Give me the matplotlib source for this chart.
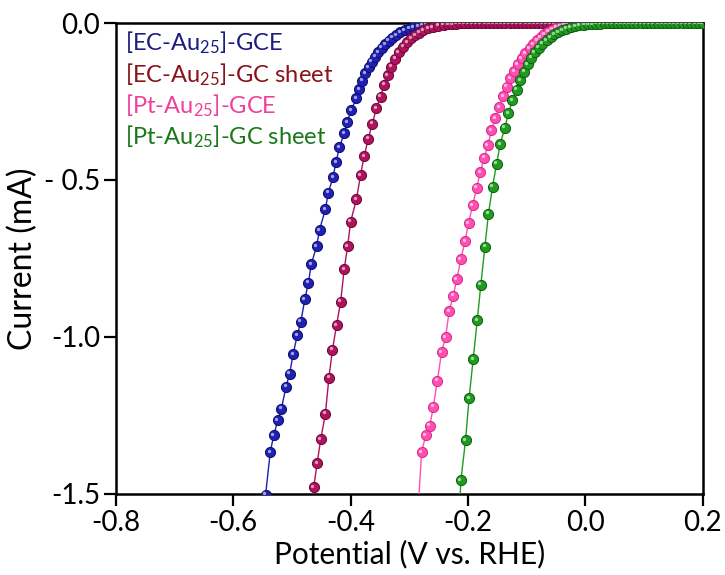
import matplotlib
matplotlib.use('Agg')
import matplotlib.pyplot as plt
from matplotlib.transforms import offset_copy

plt.rcParams['font.family'] = ['Lato', 'DejaVu Sans']
plt.rcParams['mathtext.fontset'] = 'custom'
plt.rcParams['mathtext.rm'] = 'Lato'
plt.rcParams['axes.unicode_minus'] = False

# LSV sweeps, potential in V vs. RHE, current in mA
ec_gce_v = [-0.545, -0.537, -0.531, -0.524, -0.518, -0.510, -0.504, -0.498, -0.491, -0.485,
            -0.478, -0.472, -0.467, -0.458, -0.453, -0.443, -0.438, -0.430, -0.425, -0.419,
            -0.411, -0.406, -0.399, -0.390, -0.385, -0.380, -0.375, -0.369, -0.364, -0.358,
            -0.353, -0.347, -0.341, -0.335, -0.329, -0.322, -0.315, -0.308, -0.300, -0.293,
            -0.284, -0.277, -0.270, -0.263, -0.256, -0.249, -0.242, -0.235, -0.228, -0.221,
            -0.214, -0.207, -0.200]
ec_gce_i = [-1.503, -1.367, -1.312, -1.265, -1.228, -1.158, -1.117, -1.055, -0.995, -0.952,
            -0.880, -0.827, -0.768, -0.711, -0.659, -0.593, -0.540, -0.491, -0.443, -0.396,
            -0.351, -0.315, -0.277, -0.240, -0.210, -0.184, -0.160, -0.141, -0.123, -0.107,
            -0.093, -0.079, -0.067, -0.056, -0.047, -0.038, -0.030, -0.023, -0.018, -0.014,
            -0.010, -0.007, -0.005, -0.004, -0.003, -0.002, -0.001, -0.001, 0.000, 0.000,
            0.000, 0.000, 0.000]

ec_sheet_v = [-0.469, -0.463, -0.457, -0.451, -0.443, -0.437, -0.431, -0.424, -0.417, -0.411,
              -0.405, -0.400, -0.390, -0.383, -0.377, -0.370, -0.363, -0.356, -0.349, -0.343,
              -0.337, -0.331, -0.324, -0.318, -0.310, -0.304, -0.297, -0.290, -0.283, -0.276,
              -0.268, -0.260, -0.251, -0.241, -0.234, -0.227, -0.220, -0.213, -0.206, -0.199,
              -0.192, -0.185, -0.178, -0.171, -0.164, -0.157, -0.150, -0.143, -0.136, -0.129,
              -0.122, -0.115, -0.108, -0.101, -0.094, -0.087, -0.080, -0.073, -0.066, -0.059,
              -0.052, -0.045, -0.038, -0.031, -0.024, -0.017, -0.010, -0.003, 0.004]
ec_sheet_i = [-1.599, -1.479, -1.402, -1.326, -1.245, -1.130, -1.041, -0.963, -0.888, -0.785,
              -0.710, -0.633, -0.561, -0.484, -0.425, -0.369, -0.321, -0.272, -0.235, -0.197,
              -0.166, -0.139, -0.114, -0.093, -0.076, -0.061, -0.049, -0.038, -0.031, -0.023,
              -0.017, -0.013, -0.009, -0.006, -0.004, -0.003, -0.002, -0.001, -0.001, 0.000,
              0.000, 0.000, 0.000, 0.000, 0.000, 0.000, 0.000, 0.000, 0.000, 0.000,
              0.000, 0.000, 0.000, 0.000, 0.000, 0.000, 0.000, 0.000, 0.000, 0.000,
              0.000, 0.000, 0.000, 0.000, 0.000, 0.000, 0.000, 0.000, 0.000]

pt_gce_v = [-0.287, -0.279, -0.272, -0.265, -0.259, -0.252, -0.245, -0.238, -0.232, -0.225,
            -0.219, -0.212, -0.205, -0.199, -0.192, -0.185, -0.179, -0.172, -0.166, -0.160,
            -0.153, -0.147, -0.140, -0.134, -0.128, -0.121, -0.115, -0.108, -0.102, -0.095,
            -0.089, -0.082, -0.076, -0.070, -0.063, -0.056, -0.049, -0.042, -0.036, -0.029,
            -0.022, -0.015, -0.008, -0.001, 0.006, 0.013, 0.020, 0.027, 0.034, 0.041,
            0.048, 0.055, 0.062]
pt_gce_i = [-1.615, -1.368, -1.313, -1.283, -1.222, -1.139, -1.049, -1.000, -0.918, -0.869,
            -0.816, -0.752, -0.695, -0.638, -0.581, -0.525, -0.476, -0.429, -0.389, -0.342,
            -0.304, -0.268, -0.233, -0.203, -0.176, -0.153, -0.132, -0.112, -0.096, -0.081,
            -0.068, -0.055, -0.045, -0.036, -0.028, -0.021, -0.015, -0.011, -0.006, -0.004,
            -0.003, -0.002, -0.001, 0.000, 0.000, 0.000, 0.000, 0.000, 0.000, 0.000,
            0.000, 0.000, 0.000]

pt_sheet_v = [-0.216, -0.212, -0.204, -0.198, -0.191, -0.184, -0.178, -0.171, -0.165, -0.158,
              -0.151, -0.145, -0.137, -0.131, -0.124, -0.117, -0.111, -0.104, -0.098, -0.092,
              -0.086, -0.079, -0.073, -0.066, -0.059, -0.053, -0.046, -0.039, -0.032, -0.025,
              -0.017, -0.010, -0.002, 0.005, 0.012, 0.019, 0.026, 0.033, 0.040, 0.047,
              0.054, 0.061, 0.068, 0.075, 0.082, 0.089, 0.096, 0.103, 0.110, 0.117,
              0.124, 0.131, 0.138, 0.145, 0.152, 0.159, 0.166, 0.173, 0.180, 0.187,
              0.194, 0.200]
pt_sheet_i = [-1.615, -1.457, -1.328, -1.195, -1.070, -0.946, -0.834, -0.712, -0.608, -0.521,
              -0.448, -0.386, -0.334, -0.288, -0.246, -0.213, -0.182, -0.155, -0.132, -0.111,
              -0.093, -0.079, -0.066, -0.054, -0.045, -0.036, -0.030, -0.023, -0.018, -0.014,
              -0.011, -0.007, -0.005, -0.004, -0.003, -0.002, -0.002, -0.001, -0.001, -0.001,
              0.000, 0.000, 0.000, 0.000, 0.000, 0.000, 0.000, 0.000, 0.000, 0.000,
              0.000, 0.000, 0.000, 0.000, 0.000, 0.000, 0.000, 0.000, 0.000, 0.000,
              0.000, 0.000]

labels = [r'[EC-Au$\mathregular{_{25}}$]-GCE', r'[EC-Au$\mathregular{_{25}}$]-GC sheet',
          r'[Pt-Au$\mathregular{_{25}}$]-GCE', r'[Pt-Au$\mathregular{_{25}}$]-GC sheet']
xticks = [-0.8, -0.6, -0.4, -0.2, 0.0, 0.2]
xticklabels = ['-0.8', '-0.6', '-0.4', '-0.2', '0.0', '0.2']
yticks = [-1.5, -1.0, -0.5, 0.0]
yticklabels = ['-1.5', '-1.0', '- 0.5', '0.0']

series = [
    (ec_gce_v, ec_gce_i, '#2020b4', '#0c0c6a', '#1c1c80'),
    (ec_sheet_v, ec_sheet_i, '#b0125e', '#6a0836', '#8a1218'),
    (pt_gce_v, pt_gce_i, '#ff4fb2', '#d42a88', '#f0409c'),
    (pt_sheet_v, pt_sheet_i, '#1f9c1f', '#0c5c0c', '#1a781a'),
]

fig = plt.figure(figsize=(7.25, 5.75), dpi=100)
ax = fig.add_axes([0.160, 0.141, 0.809, 0.819])

shine = offset_copy(ax.transData, fig=fig, x=-1.0, y=1.0, units='points')
for k, (v, i, col, edge, txt) in enumerate(series):
    z = 2 + 3 * k
    ax.plot(v, i, '-', color=col, lw=1.0, zorder=z)
    ax.plot(v, i, 'o', ms=7.3, mfc=col, mec=edge, mew=0.7, zorder=z + 1)
    ax.plot(v, i, 'o', ms=2.4, mfc='white', mec='none', alpha=0.6,
            transform=shine, zorder=z + 2)
    ax.text(0.015, 0.941 - 0.0665 * k, labels[k], color=txt, fontsize=17,
            transform=ax.transAxes, va='baseline', ha='left', zorder=20)

ax.set_xlim(-0.8, 0.2)
ax.set_ylim(-1.5, 0.0)
ax.set_xticks(xticks)
ax.set_xticklabels(xticklabels)
ax.set_yticks(yticks)
ax.set_yticklabels(yticklabels)
ax.tick_params(direction='out', length=8.5, width=1.6, labelsize=20, pad=3,
               top=False, right=False)
for s in ax.spines.values():
    s.set_linewidth(1.8)

ax.set_xlabel('Potential (V vs. RHE)', fontsize=21.5, labelpad=3)
ax.set_ylabel('Current (mA)', fontsize=23, labelpad=4)

fig.savefig('out.png', dpi=100)
